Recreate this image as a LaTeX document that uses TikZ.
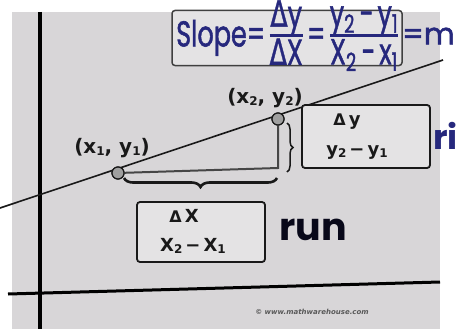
\documentclass[tikz,border=0pt]{standalone}
\usepackage{fontspec}
\setmainfont{DejaVu Sans}
\newfontfamily\handfont{Poppins}
\newfontfamily\handsemi{Poppins}[FakeBold=1.6]
\newfontfamily\dvs{DejaVu Sans}[FakeBold=1.2]
\usetikzlibrary{decorations.pathreplacing}
\definecolor{paper}{RGB}{216,214,216}
\definecolor{boxfill}{RGB}{228,227,228}
\definecolor{ink}{RGB}{38,40,125}
\definecolor{dark}{RGB}{25,25,25}
\newcommand{\sbs}[1]{\raisebox{-0.2ex}{\fontsize{12}{12}\selectfont #1}}
\newcommand{\hfr}[2]{\begin{tabular}{@{}c@{}}#1\\[-2pt]\noalign{\hrule height 1.8pt}\rule{0pt}{17pt}#2\end{tabular}}
\begin{document}
\begin{tikzpicture}[x=1pt,y=-1pt,
  lab/.style={font=\fontsize{18}{18}\selectfont\bfseries, text=dark, inner sep=0pt},
  box/.style={draw=dark, line width=1.8pt, rounded corners=3pt, fill=boxfill},
  pt/.style={circle, draw=dark, fill=gray!75, line width=1.2pt, minimum size=12pt, inner sep=0pt},
  hand/.style={font=\handsemi, text=ink, inner sep=0pt},
  axis/.style={line width=3.6pt, draw=black},
  guide/.style={line width=2pt, draw=gray!55!black}]
\useasboundingbox (0,0) rectangle (462,329);
\fill[white] (0,0) rectangle (462,329);
\fill[paper] (12,12) rectangle (440,329);
% axes
\coordinate (vt) at (40,12);
\coordinate (vb) at (40,329);
\coordinate (hl) at (8,294);
\coordinate (hr) at (440,282);
\draw[axis] (vt) -- (vb);
\draw[axis, line width=3pt] (hl) -- (hr);
% slope line
\coordinate (ls) at (0,208);
\coordinate (le) at (443,60);
\draw[line width=1.6pt, dark] (ls) -- (le);
% points and guide lines
\node[pt] (p1) at (118,173) {};
\node[pt] (p2) at (278,119) {};
\coordinate (c) at (278,168);
\draw[guide] (p1) -- (c) -- (p2);
\node[pt] at (118,173) {};
\node[pt] at (278,119) {};
\node[lab, font=\fontsize{20}{20}\selectfont\bfseries] (l1) at (112,148) {(x\sbs{1}, y\sbs{1})};
\node[lab, font=\fontsize{20}{20}\selectfont\bfseries] (l2) at (265,98) {(x\sbs{2}, y\sbs{2})};
% braces
\coordinate (bt) at (287,123);
\coordinate (bb) at (287,172);
\draw[line width=1.5pt, dark, decorate, decoration={brace, amplitude=6pt}] (bt) -- (bb);
\coordinate (hl1) at (277,178);
\coordinate (hl2) at (124,178);
\draw[line width=2.6pt, dark, decorate, decoration={brace, amplitude=9pt}] (hl1) -- (hl2);
% delta y box
\node[box, minimum width=128pt, minimum height=63pt] (dy) at (366,136.5) {};
\node[lab] (dyt) at (347,122) {{\fontsize{16}{16}\selectfont Δ}\,y};
\node[lab] (dyb) at (357,153) {y\sbs{2}\,−\,y\sbs{1}};
\node[hand, font=\handfont\bfseries\fontsize{34}{34}\selectfont, anchor=west] (ri) at (433,136) {ri};
% delta x box
\node[box, minimum width=128pt, minimum height=60pt] (dx) at (201,232) {};
\node[lab] (dxt) at (184,216) {{\fontsize{16}{16}\selectfont Δ}\,X};
\node[lab] (dxb) at (193,246) {X\sbs{2}\,−\,X\sbs{1}};
\node[hand, font=\handfont\bfseries\fontsize{38}{38}\selectfont, text=black!80!ink] (run) at (313,230) {run};
% slope box
\node[box, minimum width=230pt, minimum height=55pt, draw=black!75, line width=1.5pt] (sb) at (287,38) {};
\node[hand, anchor=west] (sl) at (176,38)
  {\resizebox{222pt}{46pt}{\fontsize{22}{22}\selectfont Slope=\,\hfr{{\dvs Δ}y}{{\dvs Δ}X}\,=\,\hfr{y\textsubscript{2}\,−\,y\textsubscript{1}}{X\textsubscript{2}\,−\,x\textsubscript{1}}}};
\node[hand, font=\handsemi\fontsize{30}{30}\selectfont, anchor=west] (m) at (402,36) {=m};
% watermark
\node[font=\fontsize{7}{7}\selectfont\bfseries\itshape, text=black!65, inner sep=0pt] (wm) at (312,312) {© www.mathwarehouse.com};
\end{tikzpicture}
\end{document}
